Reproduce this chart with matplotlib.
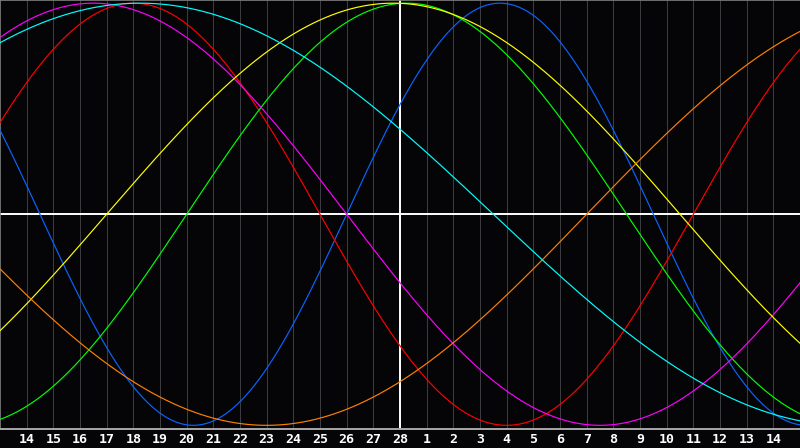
import numpy as np
import matplotlib
matplotlib.use("Agg")
import matplotlib.pyplot as plt

# Biorhythm cycles
cycle_names = ["Physical", "Emotional", "Intellectual", "Intuitive", "Aesthetic", "Awareness", "Spiritual"]
periods = [23, 28, 33, 38, 43, 48, 53]
days_into_cycle_today = [2, 17, 8, 21, 11, 41, 23]
colors = ["#0a64ff", "#ff0000", "#00ff00", "#ff00ff", "#ffff00", "#ff8000", "#00ffff"]

day_labels = ["14", "15", "16", "17", "18", "19", "20", "21", "22", "23", "24", "25", "26", "27", "28",
              "1", "2", "3", "4", "5", "6", "7", "8", "9", "10", "11", "12", "13", "14"]
today_index = 14  # position of "28" in day_labels

bg = "#050508"
fig = plt.figure(figsize=(8, 4.48), dpi=100, facecolor=bg)
ax = fig.add_axes([0, 19.5 / 448, 1, 428.5 / 448])
ax.set_facecolor(bg)

n = len(day_labels)
xpos = np.arange(1, n + 1)
today_x = xpos[today_index]
ax.set_xlim(0, n + 1)
ax.set_ylim(-1.015, 1.015)

# day grid
for x in xpos:
    ax.axvline(x, color="#3c3c40", lw=0.75, zorder=1)

t = np.linspace(0, n + 1, 1200)
for P, d0, c in zip(periods, days_into_cycle_today, colors):
    y = np.sin(2 * np.pi * (t - today_x + d0) / P)
    ax.plot(t, y, color=c, lw=0.85, zorder=3)

ax.axhline(0, color="white", lw=1.4, zorder=2)
ax.axvline(today_x, color="white", lw=1.4, zorder=2)

ax.set_xticks(xpos)
ax.set_xticklabels(day_labels, color="white", fontweight="bold", fontsize=9.5,
                   family="DejaVu Sans Mono")
ax.tick_params(axis="x", length=0, pad=3)
ax.set_yticks([])

for s in ["left", "top"]:
    ax.spines[s].set_color("#808080")
    ax.spines[s].set_linewidth(1.2)
ax.spines["bottom"].set_color("#a8a8a8")
ax.spines["bottom"].set_linewidth(1.4)
ax.spines["right"].set_visible(False)

fig.savefig("out.png", dpi=100, facecolor=bg)
